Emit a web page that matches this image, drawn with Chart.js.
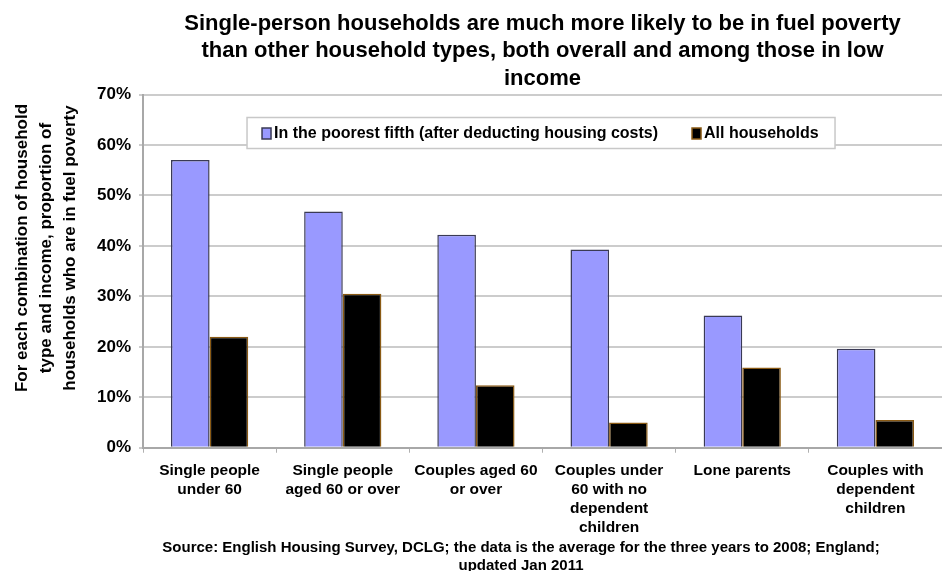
<!DOCTYPE html>
<html>
<head>
<meta charset="utf-8">
<style>
  html, body { margin: 0; padding: 0; background: #fff; }
  #wrap { width: 942px; height: 571px; }
</style>
<script src="https://cdn.jsdelivr.net/npm/chart.js@4/dist/chart.umd.min.js"></script>
</head>
<body>
<div id="wrap"><canvas id="fuelChart"></canvas></div>
<script>
// data
const categories = [
    ['Single people', 'under 60'],
    ['Single people', 'aged 60 or over'],
    ['Couples aged 60', 'or over'],
    ['Couples under', '60 with no', 'dependent', 'children'],
    ['Lone parents'],
    ['Couples with', 'dependent', 'children']
];
const poorestFifth = [57.0, 46.8, 42.2, 39.3, 26.2, 19.6];
const allHouseholds = [22.0, 30.5, 12.4, 5.0, 15.9, 5.5];
const seriesLabels = ['In the poorest fifth (after deducting housing costs)', 'All households'];
const yTickValues = [0, 10, 20, 30, 40, 50, 60, 70];
const titleLines = [
    'Single-person households are much more likely to be in fuel poverty',
    'than other household types, both overall and among those in low',
    'income'
];
const yTitleLines = [
    'For each combination of household',
    'type and income, proportion of',
    'households who are in fuel poverty'
];
const sourceLines = [
    'Source: English Housing Survey, DCLG; the data is the average for the three years to 2008; England;',
    'updated Jan 2011'
];

const FONT = "'Liberation Sans', Arial, sans-serif";

// y axis title, legend box and source note drawn by hand
const extrasPlugin = {
    id: 'extras',
    afterDatasetsDraw(chart) {
        const { ctx, chartArea } = chart;
        ctx.save();

        // legend box inside the plot area
        const bx = chartArea.left + 104, by = chartArea.top + 23, bw = 588, bh = 31;
        ctx.fillStyle = '#fff';
        ctx.fillRect(bx, by, bw, bh);
        ctx.strokeStyle = '#c8c8c8';
        ctx.lineWidth = 1.5;
        ctx.strokeRect(bx, by, bw, bh);

        ctx.font = `bold 16px ${FONT}`;
        ctx.textBaseline = 'middle';
        ctx.textAlign = 'left';
        const cy = by + bh / 2;
        const itemX = [bx + 15, bx + 445];
        chart.data.datasets.forEach((ds, i) => {
            ctx.fillStyle = ds.backgroundColor;
            ctx.fillRect(itemX[i], cy - 5, 9, 11);
            ctx.strokeStyle = ds.borderColor;
            ctx.lineWidth = 1.5;
            ctx.strokeRect(itemX[i], cy - 5, 9, 11);
            ctx.fillStyle = '#000';
            ctx.fillText(ds.label, itemX[i] + 12, cy + 1);
        });
        ctx.restore();
    },
    afterDraw(chart) {
        const { ctx } = chart;
        ctx.save();
        ctx.fillStyle = '#000';
        ctx.textAlign = 'center';
        ctx.textBaseline = 'middle';

        // rotated y title
        ctx.font = `bold 17px ${FONT}`;
        yTitleLines.forEach((line, i) => {
            ctx.save();
            ctx.translate(22 + i * 24, 248);
            ctx.rotate(-Math.PI / 2);
            ctx.fillText(line, 0, 0);
            ctx.restore();
        });

        // source note
        ctx.font = `bold 15px ${FONT}`;
        sourceLines.forEach((line, i) => {
            ctx.fillText(line, 521, 548 + i * 18);
        });
        ctx.restore();
    }
};

const ctx = document.getElementById('fuelChart').getContext('2d');
new Chart(ctx, {
    type: 'bar',
    data: {
        labels: categories,
        datasets: [{
            label: seriesLabels[0],
            data: poorestFifth,
            backgroundColor: '#9999ff',
            borderColor: '#3a3a55',
            borderWidth: 1.5,
            categoryPercentage: 0.58,
            barPercentage: 1.0
        }, {
            label: seriesLabels[1],
            data: allHouseholds,
            backgroundColor: '#000000',
            borderColor: '#8a5a14',
            borderWidth: 1.5,
            categoryPercentage: 0.58,
            barPercentage: 1.0
        }]
    },
    options: {
        responsive: true,
        maintainAspectRatio: false,
        animation: false,
        layout: { padding: { left: 89, right: 0, top: 10, bottom: 26 } },
        plugins: {
            legend: { display: false },
            tooltip: { enabled: false },
            title: {
                display: true,
                text: titleLines,
                fullSize: false,
                color: '#000',
                font: { family: FONT, size: 22, weight: 'bold', lineHeight: 1.25 },
                padding: { top: 0, bottom: 2 }
            }
        },
        scales: {
            x: {
                grid: { drawOnChartArea: false, tickLength: 5, color: '#b0b0b0', lineWidth: 1 },
                border: { color: '#a8a8a8', width: 2 },
                ticks: {
                    color: '#000',
                    maxRotation: 0,
                    autoSkip: false,
                    padding: 8,
                    font: { family: FONT, size: 15.5, weight: 'bold', lineHeight: 1.23 }
                }
            },
            y: {
                min: 0,
                max: 70,
                afterBuildTicks(scale) {
                    scale.ticks = yTickValues.map(v => ({ value: v }));
                },
                grid: { color: '#cccccc', lineWidth: 2, tickLength: 4 },
                border: { color: '#a8a8a8', width: 2 },
                ticks: {
                    color: '#000',
                    padding: 8,
                    font: { family: FONT, size: 17, weight: 'bold' },
                    callback: v => v + '%'
                }
            }
        }
    },
    plugins: [extrasPlugin]
});
</script>
</body>
</html>
